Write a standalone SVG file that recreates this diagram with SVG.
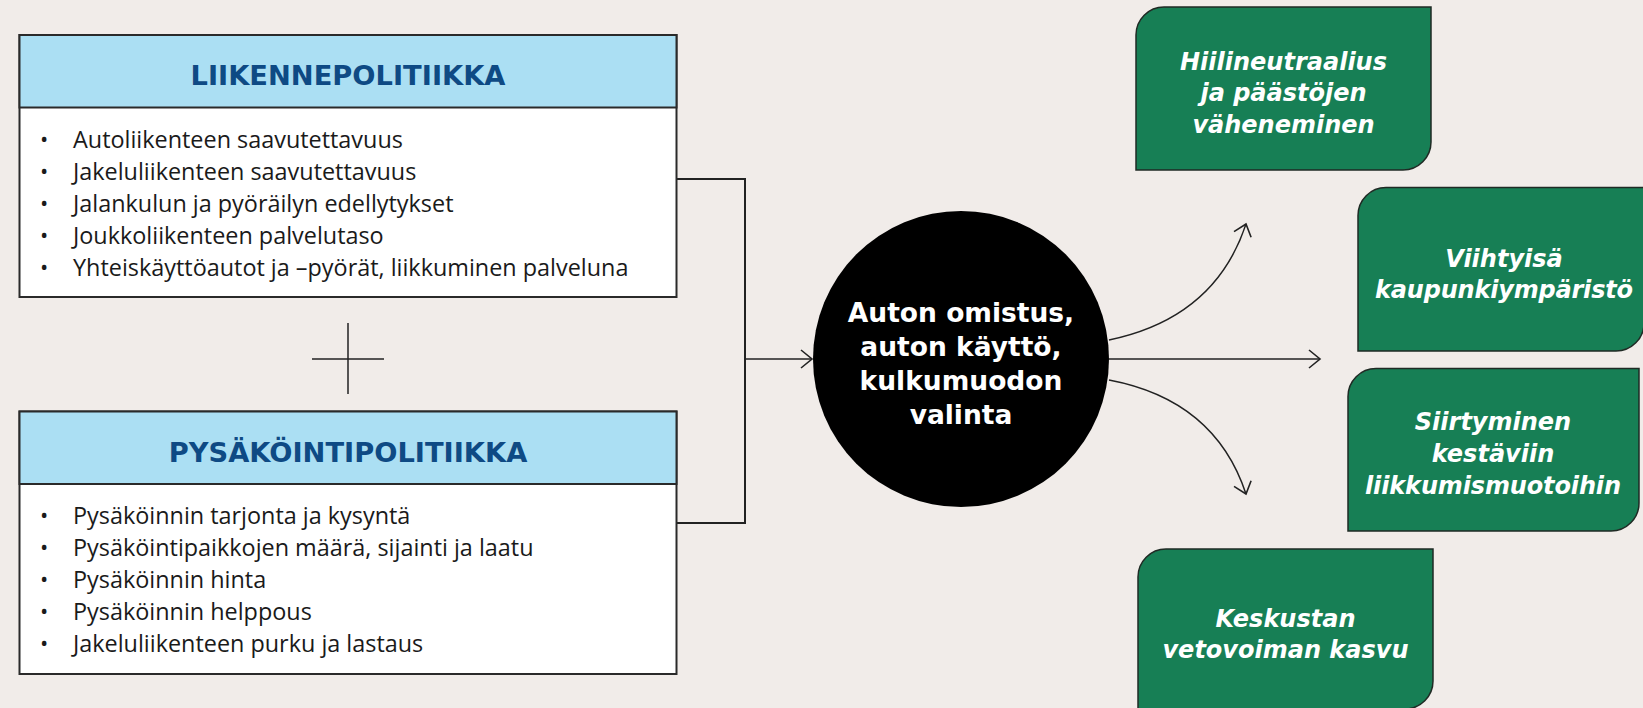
<svg xmlns="http://www.w3.org/2000/svg" width="1643" height="708" viewBox="0 0 1643 708">
<defs>
<style>
.bg{fill:#f1ece9}
.box{fill:#ffffff;stroke:#2a2a2a;stroke-width:2}
.hdr{fill:#abdff3;stroke:#2a2a2a;stroke-width:2}
.htxt{font-family:"DejaVu Sans",sans-serif;font-weight:700;font-size:27.3px;fill:#0e4a84;text-anchor:middle}
.item{font-family:"Open Sans","Noto Sans",sans-serif;font-size:23.4px;fill:#1a1a1a}
.bul{font-family:"Open Sans","Noto Sans",sans-serif;font-size:22px;fill:#1a1a1a}
.green{fill:#177f55;stroke:#1f2a24;stroke-width:1.5}
.gtxt{font-family:"DejaVu Sans",sans-serif;font-weight:700;font-style:italic;font-size:24px;fill:#ffffff;text-anchor:middle}
.ctxt{font-family:"DejaVu Sans",sans-serif;font-weight:700;font-size:26.5px;fill:#ffffff;text-anchor:middle}
.ln{fill:none;stroke:#222222;stroke-width:2}
.thin{fill:none;stroke:#222222;stroke-width:1.5}
</style>
<marker id="arr" markerUnits="userSpaceOnUse" markerWidth="24" markerHeight="24" refX="12" refY="12" orient="auto" viewBox="0 0 24 24">
<path d="M1,3 L12,12 L1,21" fill="none" stroke="#222222" stroke-width="1.6"/>
</marker>
</defs>
<rect class="bg" x="0" y="0" width="1643" height="708"/>

<g id="connectors">
<polyline class="ln" points="677,179 745,179 745,523 677,523"/>
<line class="thin" x1="745" y1="359" x2="812" y2="359" marker-end="url(#arr)"/>
<line class="thin" x1="1109" y1="359" x2="1320" y2="359" marker-end="url(#arr)"/>
<path class="thin" d="M1109,340 Q1215,318 1246,224" marker-end="url(#arr)"/>
<path class="thin" d="M1109,380 Q1215,400 1246,494" marker-end="url(#arr)"/>
<line class="thin" x1="348" y1="323" x2="348" y2="394"/>
<line class="thin" x1="312" y1="359" x2="384" y2="359"/>
</g>

<g id="liikennepolitiikka">
<rect class="box" x="19.5" y="35" width="657" height="262"/>
<rect class="hdr" x="19.5" y="35" width="657" height="72.5"/>
<text class="htxt" x="348" y="85">LIIKENNEPOLITIIKKA</text>
<text class="bul" x="40" y="147">•</text><text class="item" x="73" y="147.5">Autoliikenteen saavutettavuus</text>
<text class="bul" x="40" y="179">•</text><text class="item" x="73" y="179.5">Jakeluliikenteen saavutettavuus</text>
<text class="bul" x="40" y="211">•</text><text class="item" x="73" y="211.5">Jalankulun ja pyöräilyn edellytykset</text>
<text class="bul" x="40" y="243">•</text><text class="item" x="73" y="243.5">Joukkoliikenteen palvelutaso</text>
<text class="bul" x="40" y="275">•</text><text class="item" x="73" y="275.5">Yhteiskäyttöautot ja –pyörät, liikkuminen palveluna</text>
</g>

<g id="pysakointipolitiikka">
<rect class="box" x="19.5" y="411.5" width="657" height="262.5"/>
<rect class="hdr" x="19.5" y="411.5" width="657" height="72.5"/>
<text class="htxt" x="348" y="461.5">PYSÄKÖINTIPOLITIIKKA</text>
<text class="bul" x="40" y="523">•</text><text class="item" x="73" y="523.5">Pysäköinnin tarjonta ja kysyntä</text>
<text class="bul" x="40" y="555">•</text><text class="item" x="73" y="555.5">Pysäköintipaikkojen määrä, sijainti ja laatu</text>
<text class="bul" x="40" y="587">•</text><text class="item" x="73" y="587.5">Pysäköinnin hinta</text>
<text class="bul" x="40" y="619">•</text><text class="item" x="73" y="619.5">Pysäköinnin helppous</text>
<text class="bul" x="40" y="651">•</text><text class="item" x="73" y="651.5">Jakeluliikenteen purku ja lastaus</text>
</g>

<g id="center">
<circle cx="961" cy="359" r="148" fill="#000000"/>
<text class="ctxt" x="961" y="321.5">Auton omistus,</text>
<text class="ctxt" x="961" y="355.8">auton käyttö,</text>
<text class="ctxt" x="961" y="390">kulkumuodon</text>
<text class="ctxt" x="961" y="424.3">valinta</text>
</g>

<g id="hiilineutraalius">
<path class="green" d="M1164,7 H1431 V142 A28,28 0 0 1 1403,170 H1136 V35 A28,28 0 0 1 1164,7 Z"/>
<text class="gtxt" x="1283.5" y="70">Hiilineutraalius</text>
<text class="gtxt" x="1283.5" y="101">ja päästöjen</text>
<text class="gtxt" x="1283.5" y="132.5">väheneminen</text>
</g>

<g id="viihtyisa">
<path class="green" d="M1386,187.5 H1644 V323 A28,28 0 0 1 1616,351 H1358 V215.5 A28,28 0 0 1 1386,187.5 Z"/>
<text class="gtxt" x="1504" y="266.7">Viihtyisä</text>
<text class="gtxt" x="1504" y="298.3" textLength="258" lengthAdjust="spacing">kaupunkiympäristö</text>
</g>

<g id="siirtyminen">
<path class="green" d="M1376,368.5 H1639 V503 A28,28 0 0 1 1611,531 H1348 V396.5 A28,28 0 0 1 1376,368.5 Z"/>
<text class="gtxt" x="1493" y="430">Siirtyminen</text>
<text class="gtxt" x="1493" y="461.7">kestäviin</text>
<text class="gtxt" x="1493" y="494" textLength="256" lengthAdjust="spacing">liikkumismuotoihin</text>
</g>

<g id="keskustan">
<path class="green" d="M1166,549 H1433 V681 A28,28 0 0 1 1405,709 H1138 V577 A28,28 0 0 1 1166,549 Z"/>
<text class="gtxt" x="1285.5" y="626.7">Keskustan</text>
<text class="gtxt" x="1285.5" y="658.3">vetovoiman kasvu</text>
</g>
</svg>
